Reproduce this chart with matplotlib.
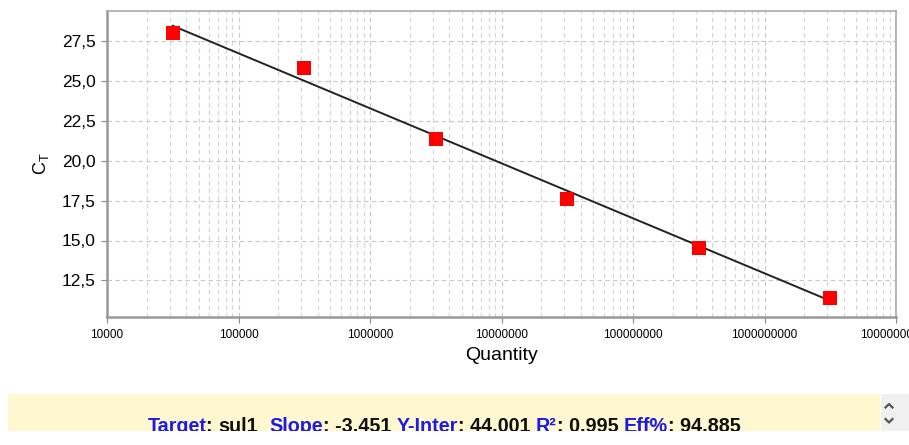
import numpy as np
import matplotlib
matplotlib.use('Agg')
import matplotlib.pyplot as plt
from matplotlib.ticker import LogLocator, FuncFormatter, MultipleLocator

# Dados da curva padrão
quantity = [3.16e4, 3.16e5, 3.16e6, 3.16e7, 3.16e8, 3.16e9]
ct_values = [28.0, 25.8, 21.4, 17.6, 14.5, 11.4]
slope = -3.451
y_inter = 44.001
r2 = 0.995
eff = 94.885
target = 'sul1'

plt.rcParams['font.family'] = ['Liberation Sans', 'DejaVu Sans']
plt.rcParams['mathtext.fontset'] = 'custom'
plt.rcParams['mathtext.rm'] = 'Liberation Sans'

W, H = 909, 445
fig = plt.figure(figsize=(W / 100, H / 100), dpi=100)

# Eixo principal
ax = fig.add_axes([107 / W, 1 - 317 / H, (896 - 107) / W, (317 - 11) / H])
ax.set_xscale('log')
ax.set_xlim(1e4, 1e10)
ax.set_ylim(10.2, 29.4)

# Reta de regressão
q_line = np.array([quantity[0], quantity[-1]])
ax.plot(q_line, y_inter + slope * np.log10(q_line), color='#222222', lw=1.4, zorder=3)
ax.scatter(quantity, ct_values, marker='s', s=110, color='#ff0000', zorder=4, linewidths=0)

ax.xaxis.set_major_locator(LogLocator(base=10, numticks=10))
ax.xaxis.set_minor_locator(LogLocator(base=10, subs=np.arange(2, 10), numticks=100))
ax.xaxis.set_major_formatter(FuncFormatter(lambda v, p: f'{int(round(v))}'))
ax.yaxis.set_major_locator(MultipleLocator(2.5))
ax.yaxis.set_major_formatter(FuncFormatter(lambda v, p: f'{v:.1f}'.replace('.', ',')))

ax.grid(True, which='major', color='#c8c8c8', ls=(0, (4, 3)), lw=0.8)
ax.grid(True, which='minor', axis='x', color='#d4d4d4', ls=(0, (4, 3)), lw=0.8)
ax.tick_params(axis='x', which='major', labelsize=8.5, length=4, color='#888888', pad=5)
ax.tick_params(axis='x', which='minor', length=0)
ax.tick_params(axis='y', labelsize=12.5, length=4, color='#888888', pad=4)

for s in ['left', 'bottom']:
    ax.spines[s].set_color('#999999')
    ax.spines[s].set_linewidth(1.8)
for s in ['top', 'right']:
    ax.spines[s].set_color('#aaaaaa')
    ax.spines[s].set_linewidth(1.2)

ax.set_xlabel('Quantity', fontsize=14, labelpad=4)
ax.set_ylabel(r'C$_\mathregular{T}$', fontsize=13, labelpad=8)

# Painel amarelo com o resumo
box_l, box_r, box_t, box_b = 8, 880, 394, 431
tax = fig.add_axes([box_l / W, 1 - box_b / H, (box_r - box_l) / W, (box_b - box_t) / H])
tax.set_facecolor('#fff7cf')
tax.set_xlim(0, box_r - box_l)
tax.set_ylim(0, box_b - box_t)
tax.set_xticks([])
tax.set_yticks([])
for s in tax.spines.values():
    s.set_visible(False)

blue = '#1c1ce6'
black = '#111111'
pieces = [
    ('Target', blue), (': ', black), (target, black), ('  ', black),
    ('Slope', blue), (f': {slope:.3f} ', black),
    ('Y-Inter', blue), (f': {y_inter:.3f} ', black),
    ('R\u00b2', blue), (f': {r2:.3f} ', black),
    ('Eff%', blue), (f': {eff:.3f}', black),
]
renderer = fig.canvas.get_renderer()
texts = []
total = 0
for s, c in pieces:
    t = tax.text(0, -0.5, s, color=c, fontsize=14.2, fontweight='bold',
                 va='baseline', ha='left', clip_on=True)
    w = t.get_window_extent(renderer).width
    texts.append((t, w))
    total += w
x = (box_r - box_l - total) / 2
for t, w in texts:
    t.set_x(x)
    x += w

# Botões de rolagem
sax = fig.add_axes([881 / W, 1 - box_b / H, 28 / W, (box_b - box_t) / H])
sax.set_facecolor('#f0f0f0')
sax.set_xlim(0, 28)
sax.set_ylim(0, 37)
sax.set_xticks([])
sax.set_yticks([])
for s in sax.spines.values():
    s.set_visible(False)
sax.plot([4.5, 8, 11.5], [23.5, 27, 23.5], color='#555555', lw=1.6)
sax.plot([4.5, 8, 11.5], [12, 8.5, 12], color='#555555', lw=1.6)

fig.savefig('out.png', dpi=100)
